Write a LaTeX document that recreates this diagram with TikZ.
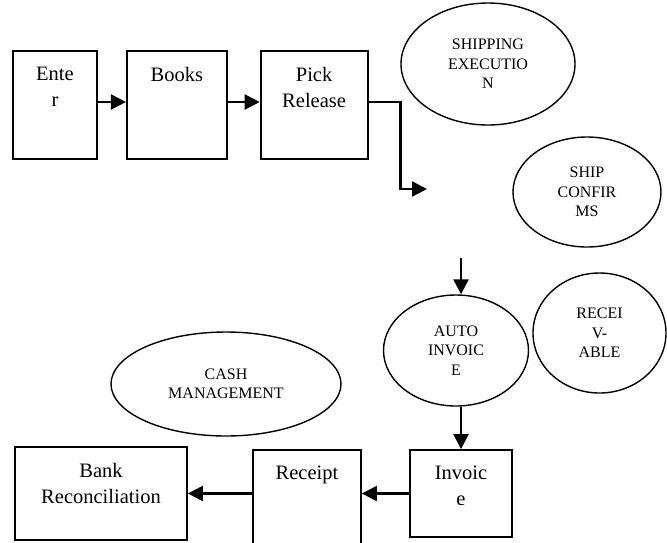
\documentclass[tikz,border=0pt]{standalone}
\usepackage{fontspec}
\setmainfont{Liberation Serif}
\usetikzlibrary{positioning,arrows.meta,shapes.geometric}

\begin{document}
\begin{tikzpicture}[x=1pt,y=1pt,
			>={Triangle[length=15pt,width=15pt]},
			box/.style={
				draw,
				line width=1.8pt,
				inner sep=0pt
			},
			boxlabel/.style={
				anchor=north,
				align=center,
				inner sep=0pt,
				yshift=-17pt,
				font=\fontsize{20.5}{26}\selectfont
			},
			oval/.style={
				draw,
				ellipse,
				line width=1.4pt,
				inner sep=0pt,
				align=center,
				font=\fontsize{16}{19.5}\selectfont
			},
			arr/.style={->,line width=2.3pt}]
			
			\useasboundingbox (0,0) rectangle (667,-542);
			
			\node[box,minimum width=84pt,minimum height=108pt,label={[boxlabel]north:Ente\\r}] (enter) at (55,-105){};
			
			\node[box,minimum width=100pt,minimum height=108pt,label={[boxlabel]north:Books},right=28pt of enter] (books){};
			
			\node[box,minimum width=107pt,minimum height=108pt,label={[boxlabel]north:Pick\\Release},right=32pt of books] (pick){};
			
			\node[oval,minimum width=174pt,minimum height=122pt] (shipexec) at (488,-64){SHIPPING\\EXECUTIO\\N};
			
			\node[oval,minimum width=148pt,minimum height=110pt] (shipconf) at (587,-192){SHIP\\CONFIR\\MS};
			
			\node[oval,minimum width=145pt,minimum height=111pt] (autoinv) at (456,-350.5){AUTO\\INVOIC\\E};
			
			\node[oval,minimum width=133pt,minimum height=120pt] (receiv) at (599.5,-333){RECEI\\V-\\ABLE};
			
			\node[oval,minimum width=230pt,minimum height=104pt] (cash) at (226,-384){CASH\\MANAGEMENT};
			
			\node[box,minimum width=102pt,minimum height=87pt,label={[boxlabel]north:Invoic\\e}] (invoice) at (461,-493.5){};
			
			\node[box,minimum width=108pt,minimum height=100pt,label={[boxlabel]north:Receipt}] (receipt) at (307,-500){};
			
			\node[box,minimum width=172pt,minimum height=93pt,label={[boxlabel]north:Bank\\Reconciliation}] (bank) at (101,-493.5){};
			
			\coordinate (shipin) at (427,-189);
			
			\coordinate (autoin) at (461,-258);
			
			\draw[arr]([yshift=3pt]enter.east)--([yshift=3pt]books.west);
			
			\draw[arr]([yshift=3pt]books.east)--([yshift=3pt]pick.west);
			
			\draw[arr]([yshift=3pt]pick.east)--++(32,0)|-(shipin);
			
			\draw[arr](autoin)--(autoin|-autoinv.north);
			
			\draw[arr](invoice.north|-autoinv.south)--(invoice.north);
			
			\draw[arr](invoice.west)--(receipt.east|-invoice.west);
			
			\draw[arr](receipt.west|-bank.east)--(bank.east);
			
		\end{tikzpicture}
\end{document}
